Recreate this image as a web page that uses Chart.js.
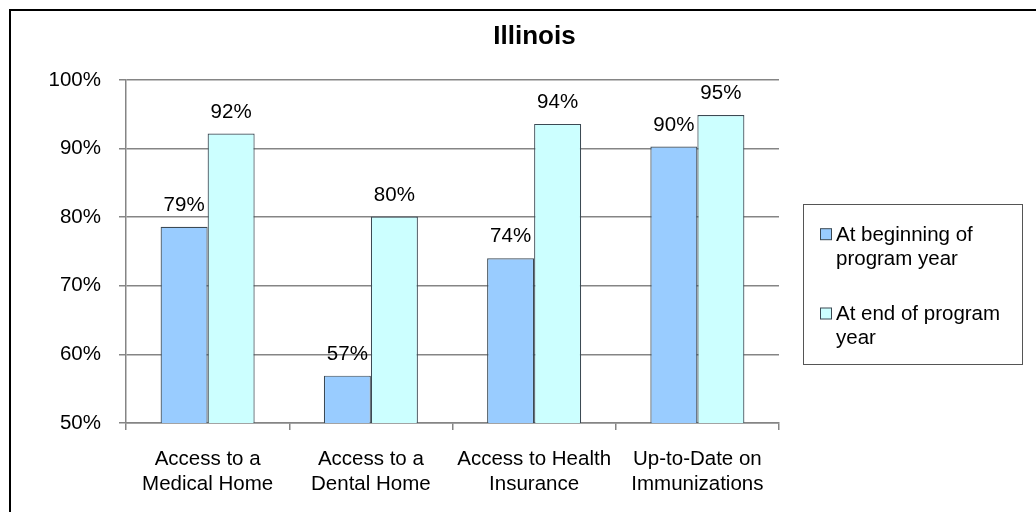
<!DOCTYPE html>
<html>
<head>
<meta charset="utf-8">
<title>Illinois</title>
<script src="https://cdn.jsdelivr.net/npm/chart.js@4.4.1/dist/chart.umd.min.js"></script>
<style>
  html, body { margin: 0; padding: 0; background: #fff; }
  #wrap { position: relative; width: 1036px; height: 512px; overflow: hidden; }
  #chart { position: absolute; left: 0; top: 0; }
  /* chart frame: only top and left edges are visible in the crop */
  #frame {
    position: absolute; left: 9px; top: 9px; width: 1100px; height: 600px;
    border-top: 2px solid #000; border-left: 2px solid #000; pointer-events: none;
  }
</style>
</head>
<body>
<div id="wrap">
  <canvas id="chart" width="1036" height="512"></canvas>
  <div id="frame"></div>
</div>
<script>
// ---------- data ----------
const chartTitle = 'Illinois';
const categories = [
  ['Access to a', 'Medical Home'],
  ['Access to a', 'Dental Home'],
  ['Access to Health', 'Insurance'],
  ['Up-to-Date on', 'Immunizations'],
];
const seriesNames = [
  ['At beginning of', 'program year'],
  ['At end of program', 'year'],
];
const beginValues = [78.6, 56.9, 74.0, 90.3];
const endValues = [92.2, 80.1, 93.6, 94.9];
const yTicks = [50, 60, 70, 80, 90, 100];
const seriesColors = ['#99ccff', '#ccffff'];

const FONT = "'Liberation Sans', Arial, sans-serif";
const FONT_SIZE = 20.5;
const GRID = '#858585';
const BAR_EDGE = '#3c4a54';

Chart.defaults.font.family = FONT;
Chart.defaults.font.size = FONT_SIZE;
Chart.defaults.color = '#000';

// ---------- value labels above bars ----------
const valueLabels = {
  id: 'valueLabels',
  afterDatasetsDraw(chart) {
    const ctx = chart.ctx;
    ctx.save();
    ctx.font = FONT_SIZE + 'px ' + FONT;
    ctx.fillStyle = '#000';
    ctx.textAlign = 'center';
    ctx.textBaseline = 'alphabetic';
    chart.data.datasets.forEach((ds, i) => {
      chart.getDatasetMeta(i).data.forEach((bar, j) => {
        ctx.fillText(Math.round(ds.data[j]) + '%', bar.x, bar.y - 16);
      });
    });
    ctx.restore();
  },
};

// ---------- title + boxed legend ----------
const titleAndLegend = {
  id: 'titleAndLegend',
  afterDraw(chart) {
    const ctx = chart.ctx;
    ctx.save();
    ctx.fillStyle = '#000';
    ctx.font = 'bold 26px ' + FONT;
    ctx.textAlign = 'center';
    ctx.textBaseline = 'alphabetic';
    ctx.fillText(chartTitle, 534.5, 44);

    ctx.strokeStyle = '#555';
    ctx.lineWidth = 1;
    ctx.strokeRect(803.5, 204.5, 219, 160);

    ctx.font = FONT_SIZE + 'px ' + FONT;
    ctx.textAlign = 'left';
    chart.data.datasets.forEach((ds, i) => {
      const base = 240.7 + i * 79.3;
      ctx.fillStyle = ds.backgroundColor;
      ctx.fillRect(820.5, base - 12, 11, 11);
      ctx.strokeStyle = BAR_EDGE;
      ctx.strokeRect(820.5, base - 12, 11, 11);
      ctx.fillStyle = '#000';
      seriesNames[i].forEach((line, k) => ctx.fillText(line, 836, base + k * 24.3));
    });
    ctx.restore();
  },
};

new Chart(document.getElementById('chart'), {
  type: 'bar',
  data: {
    labels: categories,
    datasets: [
      {
        label: seriesNames[0].join(' '),
        data: beginValues,
        backgroundColor: seriesColors[0],
        borderColor: BAR_EDGE,
        borderWidth: 1.2,
      },
      {
        label: seriesNames[1].join(' '),
        data: endValues,
        backgroundColor: seriesColors[1],
        borderColor: BAR_EDGE,
        borderWidth: 1.2,
      },
    ],
  },
  options: {
    responsive: false,
    animation: false,
    events: [],
    barPercentage: 1,
    categoryPercentage: 0.576,
    layout: { padding: { left: 0, right: 257, top: 80, bottom: 0 } },
    plugins: {
      legend: { display: false },
      title: { display: false },
      tooltip: { enabled: false },
    },
    scales: {
      x: {
        offset: true,
        grid: { drawOnChartArea: false, drawTicks: true, tickLength: 7, offset: true, color: GRID, lineWidth: 1.5 },
        border: { color: GRID, width: 1.5 },
        ticks: { padding: 17, maxRotation: 0, autoSkip: false, color: '#000' },
        afterFit: (s) => { s.height = 89; },
      },
      y: {
        min: yTicks[0],
        max: yTicks[yTicks.length - 1],
        afterBuildTicks: (s) => { s.ticks = yTicks.map((v) => ({ value: v })); },
        grid: { color: GRID, lineWidth: 1.5, tickLength: 7 },
        border: { color: GRID, width: 1.5 },
        ticks: { padding: 18, color: '#000', callback: (v) => v + '%' },
        afterFit: (s) => { s.width = 126; },
      },
    },
  },
  plugins: [valueLabels, titleAndLegend],
});
</script>
</body>
</html>
